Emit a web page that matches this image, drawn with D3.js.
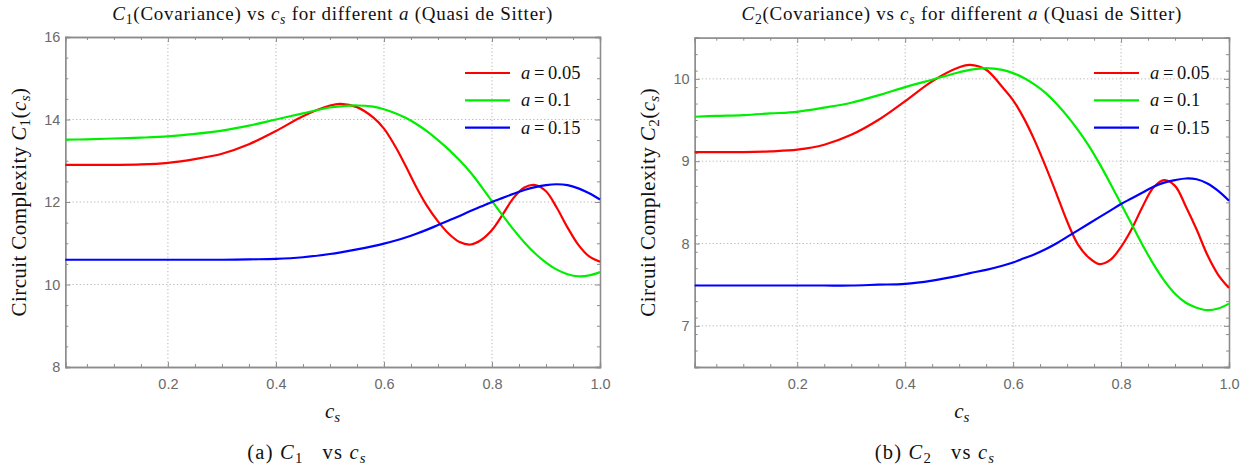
<!doctype html>
<html>
<head>
<script src="https://cdnjs.cloudflare.com/ajax/libs/d3/7.8.5/d3.min.js"></script>
<style>
  body { margin: 0; background: #fff; }
  .serif { font-family: "Liberation Serif", "DejaVu Serif", serif; fill: #111; }
  .tick-label { font-family: "Liberation Sans", Arial, sans-serif; font-size: 14.5px; fill: #6a6a6a; }
</style>
</head>
<body>
<svg width="1257" height="473"></svg>
<script>
// c_s sample points
var cs = [0.01, 0.05, 0.1, 0.15, 0.2, 0.25, 0.3, 0.35, 0.4, 0.45, 0.5, 0.52, 0.55, 0.58, 0.6,
          0.62, 0.64, 0.66, 0.68, 0.7, 0.72, 0.74, 0.76, 0.78, 0.8, 0.82, 0.84, 0.86, 0.88, 0.9,
          0.92, 0.94, 0.96, 0.98, 1.0];

// C1 panel
var c1_a005 = [12.90, 12.90, 12.90, 12.91, 12.95, 13.04, 13.17, 13.40, 13.72, 14.08, 14.34, 14.38, 14.30, 14.05, 13.78,
               13.37, 12.88, 12.36, 11.90, 11.53, 11.23, 11.03, 10.97, 11.08, 11.32, 11.70, 12.10, 12.35, 12.41, 12.26,
               11.86, 11.38, 10.96, 10.68, 10.55];
var c1_a010 = [13.51, 13.52, 13.54, 13.56, 13.59, 13.65, 13.73, 13.85, 14.00, 14.15, 14.29, 14.32, 14.34, 14.31, 14.25,
               14.16, 14.04, 13.89, 13.71, 13.50, 13.27, 13.01, 12.72, 12.38, 12.02, 11.67, 11.33, 11.02, 10.75, 10.53,
               10.36, 10.25, 10.20, 10.22, 10.30];
var c1_a015 = [10.60, 10.60, 10.60, 10.60, 10.60, 10.60, 10.60, 10.61, 10.62, 10.66, 10.74, 10.78, 10.85, 10.93, 10.99,
               11.06, 11.14, 11.23, 11.33, 11.44, 11.55, 11.66, 11.78, 11.89, 12.00, 12.10, 12.20, 12.29, 12.36, 12.41,
               12.43, 12.41, 12.33, 12.21, 12.06];

// C2 panel
var c2_a005 = [9.11, 9.11, 9.11, 9.12, 9.14, 9.20, 9.32, 9.50, 9.73, 9.97, 10.14, 10.17, 10.11, 9.90, 9.74,
               9.52, 9.25, 8.94, 8.61, 8.27, 7.99, 7.83, 7.75, 7.80, 7.96, 8.18, 8.45, 8.68, 8.77, 8.70,
               8.45, 8.17, 7.86, 7.62, 7.46];
var c2_a010 = [9.54, 9.55, 9.56, 9.58, 9.60, 9.65, 9.71, 9.80, 9.90, 9.99, 10.08, 10.11, 10.13, 10.11, 10.07,
               10.01, 9.93, 9.83, 9.70, 9.55, 9.38, 9.19, 8.97, 8.73, 8.48, 8.23, 7.98, 7.75, 7.55, 7.39,
               7.28, 7.22, 7.19, 7.21, 7.27];
var c2_a015 = [7.49, 7.49, 7.49, 7.49, 7.49, 7.49, 7.49, 7.50, 7.51, 7.55, 7.61, 7.64, 7.68, 7.73, 7.77,
               7.82, 7.87, 7.93, 8.00, 8.08, 8.16, 8.24, 8.32, 8.40, 8.48, 8.55, 8.62, 8.69, 8.74, 8.77,
               8.79, 8.78, 8.73, 8.64, 8.52];

var legendLabels = ["0.05", "0.1", "0.15"];
var seriesColors = ["#ff0000", "#00ee00", "#0000ff"];
var xTicks = [0.2, 0.4, 0.6, 0.8, 1.0];
var c1Ticks = [8, 10, 12, 14, 16];
var c2Ticks = [7, 8, 9, 10];

var svg = d3.select("svg");

// write a run of text pieces with italics and subscripts
function richText(sel, parts) {
  var shift = 0;
  parts.forEach(function (p) {
    var ts = sel.append("tspan").text(p.t);
    if (p.i) ts.attr("font-style", "italic");
    var want = p.sub ? 4 : 0;
    if (want !== shift) { ts.attr("dy", want - shift); shift = want; }
    if (p.sub) ts.attr("font-size", "0.72em");
  });
  return sel;
}

function drawPanel(opt) {
  var x = d3.scaleLinear().domain([0.01, 1.0]).range([opt.left, opt.right]);
  var y = d3.scaleLinear().domain(opt.yDomain).range([opt.bottom, opt.top]);
  var g = svg.append("g");

  // dotted grid
  g.selectAll(".gx").data(xTicks.filter(function (d) { return d < 1; })).enter().append("line")
    .attr("x1", d => x(d)).attr("x2", d => x(d)).attr("y1", opt.top).attr("y2", opt.bottom)
    .attr("stroke", "#b4b4b4").attr("stroke-dasharray", "1.2,2.4").attr("stroke-width", 1);
  g.selectAll(".gy").data(opt.yTicks.filter(function (d) { return y(d) > opt.top + 1 && y(d) < opt.bottom - 1; })).enter().append("line")
    .attr("x1", opt.left).attr("x2", opt.right).attr("y1", d => y(d)).attr("y2", d => y(d))
    .attr("stroke", "#b4b4b4").attr("stroke-dasharray", "1.2,2.4").attr("stroke-width", 1);

  // frame with ticks on all sides
  var xMinor = d3.range(0.05, 1.0001, 0.05).filter(d => Math.abs(Math.round(d * 5) / 5 - d) > 1e-6);
  var yMinor = d3.range(opt.yDomain[0], opt.yDomain[1] + 1e-6, opt.minorStep)
    .filter(d => opt.yTicks.every(t => Math.abs(t - d) > 1e-6));

  g.append("g").attr("transform", "translate(0," + opt.bottom + ")")
    .call(d3.axisBottom(x).tickValues(xTicks).tickSize(-5).tickPadding(12).tickFormat(d3.format(".1f")));
  g.append("g").attr("transform", "translate(0," + opt.bottom + ")")
    .call(d3.axisBottom(x).tickValues(xMinor).tickSize(-3).tickFormat(""));
  g.append("g").attr("transform", "translate(0," + opt.top + ")")
    .call(d3.axisTop(x).tickValues(xTicks).tickSize(-5).tickFormat(""));
  g.append("g").attr("transform", "translate(0," + opt.top + ")")
    .call(d3.axisTop(x).tickValues(xMinor).tickSize(-3).tickFormat(""));
  g.append("g").attr("transform", "translate(" + opt.left + ",0)")
    .call(d3.axisLeft(y).tickValues(opt.yTicks).tickSize(-5).tickPadding(5).tickFormat(d3.format("d")));
  g.append("g").attr("transform", "translate(" + opt.left + ",0)")
    .call(d3.axisLeft(y).tickValues(yMinor).tickSize(-3).tickFormat(""));
  g.append("g").attr("transform", "translate(" + opt.right + ",0)")
    .call(d3.axisRight(y).tickValues(opt.yTicks).tickSize(-5).tickFormat(""));
  g.append("g").attr("transform", "translate(" + opt.right + ",0)")
    .call(d3.axisRight(y).tickValues(yMinor).tickSize(-3).tickFormat(""));

  g.selectAll(".domain").attr("stroke", "#8c8c8c").attr("stroke-width", 1.3);
  g.selectAll(".tick line").attr("stroke", "#8c8c8c");
  g.selectAll(".tick text").attr("class", "tick-label").attr("fill", null);

  // curves
  var line = d3.line().x((d, i) => x(cs[i])).y(d => y(d)).curve(d3.curveCatmullRom.alpha(0.5));
  opt.series.forEach(function (s, k) {
    g.append("path").datum(s).attr("d", line).attr("fill", "none")
      .attr("stroke", seriesColors[k]).attr("stroke-width", 2.2);
  });

  // legend
  legendLabels.forEach(function (lab, k) {
    var ly = opt.legendY + k * 27.3;
    g.append("line").attr("x1", opt.legendX).attr("x2", opt.legendX + 45).attr("y1", ly).attr("y2", ly)
      .attr("stroke", seriesColors[k]).attr("stroke-width", 2.2);
    richText(g.append("text").attr("class", "serif").attr("font-size", 18.5)
      .attr("x", opt.legendX + 56).attr("y", ly + 6),
      [{ t: "a", i: true }, { t: "\u2009=\u2009" + lab }]);
  });

  var cx = (opt.left + opt.right) / 2;
  // title
  richText(g.append("text").attr("class", "serif").attr("font-size", 19).attr("letter-spacing", 0.75)
    .attr("text-anchor", "middle").attr("x", cx).attr("y", 20),
    [{ t: "C", i: true }, { t: opt.idx, sub: true }, { t: "(Covariance) vs " }, { t: "c", i: true },
     { t: "s", i: true, sub: true }, { t: " for different " }, { t: "a", i: true }, { t: " (Quasi de Sitter)" }]);
  // y label
  richText(g.append("text").attr("class", "serif").attr("font-size", 21).attr("letter-spacing", 0.4)
    .attr("text-anchor", "middle")
    .attr("transform", "translate(" + opt.yLabelX + "," + ((opt.top + opt.bottom) / 2) + ") rotate(-90)"),
    [{ t: "Circuit Complexity " }, { t: "C", i: true }, { t: opt.idx, sub: true }, { t: "(" }, { t: "c", i: true },
     { t: "s", i: true, sub: true }, { t: ")" }]);
  // x label
  richText(g.append("text").attr("class", "serif").attr("font-size", 21)
    .attr("text-anchor", "middle").attr("x", cx).attr("y", 418),
    [{ t: "c", i: true }, { t: "s", i: true, sub: true }]);
  // caption
  richText(g.append("text").attr("class", "serif").attr("font-size", 20.5).attr("letter-spacing", 1.2)
    .attr("text-anchor", "middle").attr("x", opt.capX).attr("y", 459),
    [{ t: opt.cap + " " }, { t: "C", i: true }, { t: opt.idx, sub: true }, { t: "\u00a0\u00a0\u00a0vs\u00a0" }, { t: "c", i: true },
     { t: "s", i: true, sub: true }]);
}

drawPanel({
  left: 65.3, right: 600, top: 37, bottom: 367, yDomain: [8, 16], yTicks: c1Ticks, minorStep: 0.5,
  series: [c1_a005, c1_a010, c1_a015], legendX: 465, legendY: 73, idx: "1", yLabelX: 26,
  cap: "(a)", capX: 307
});
drawPanel({
  left: 694.7, right: 1229, top: 37.7, bottom: 367, yDomain: [6.5, 10.5], yTicks: c2Ticks, minorStep: 0.2,
  series: [c2_a005, c2_a010, c2_a015], legendX: 1094, legendY: 73, idx: "2", yLabelX: 655,
  cap: "(b)", capX: 935
});
</script>
</body>
</html>
